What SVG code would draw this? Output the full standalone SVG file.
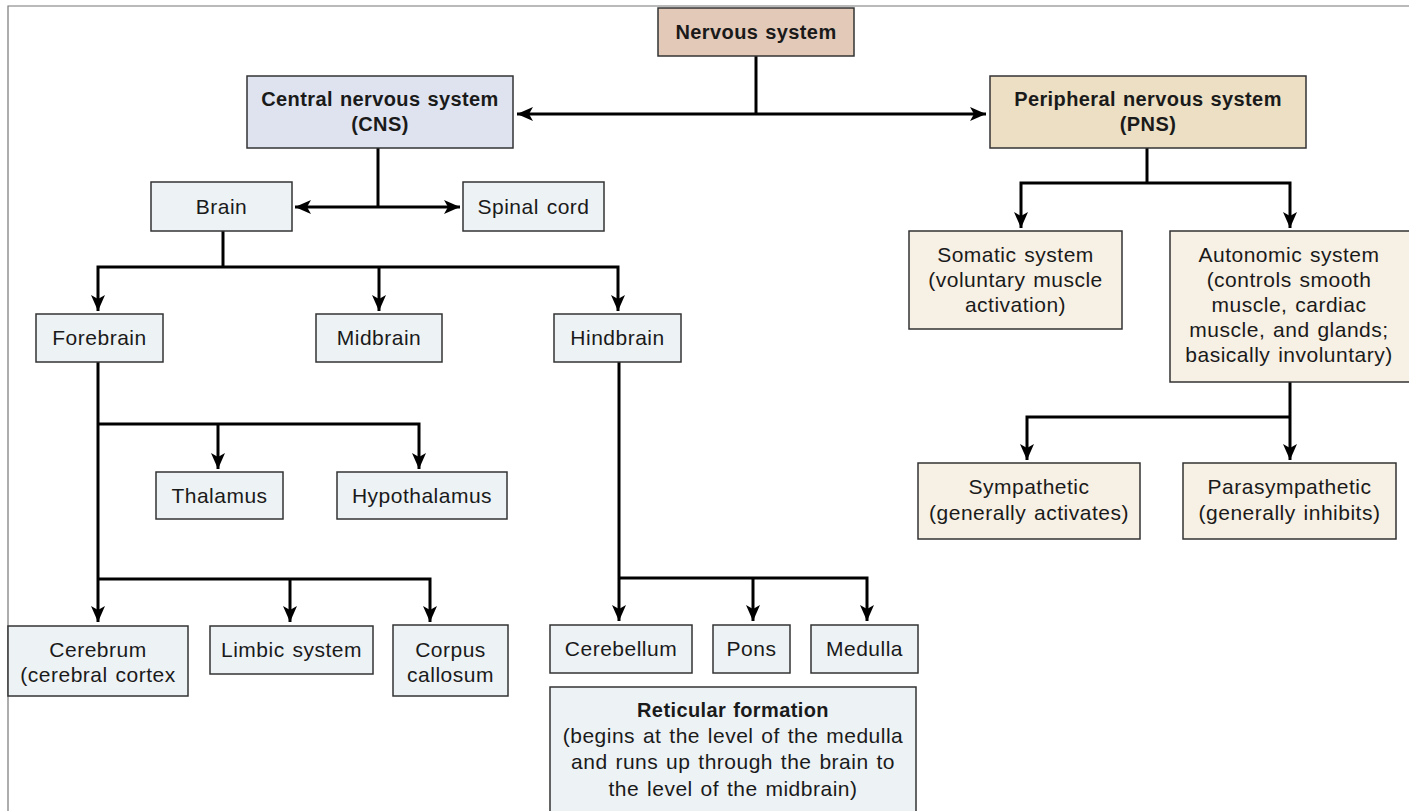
<svg xmlns="http://www.w3.org/2000/svg" width="1409" height="811" viewBox="0 0 1409 811">
<defs>
<marker id="arr" viewBox="0 0 16 14" refX="16" refY="7" markerWidth="16" markerHeight="14" markerUnits="userSpaceOnUse" orient="auto-start-reverse">
<path d="M0,0 L16,7 L0,14 L4,7 Z" fill="#000"/>
</marker>
<style>
.box{stroke:#333;stroke-width:1.5}
.ns{fill:#e3c9b8}
.cns{fill:#dee3ef}
.pns{fill:#ecdfc3}
.lb{fill:#edf2f5}
.cr{fill:#f7f0e4}
text{font-family:"Liberation Sans","Arial",sans-serif;font-size:21px;fill:#1a1a1a;text-anchor:middle;letter-spacing:0.5px;word-spacing:1.5px}
.b{font-weight:bold;font-size:20px;letter-spacing:0.4px;word-spacing:1px}
.ln{fill:none;stroke:#000;stroke-width:3}
.a{marker-end:url(#arr)}
</style>
</defs>
<rect width="1409" height="811" fill="#fff"/>
<path d="M8,811 V6 H1409" fill="none" stroke="#777" stroke-width="1.2"/>
<g id="connectors">
<path class="ln" d="M756,56 V114"/>
<path class="ln" d="M517,114 H986" marker-start="url(#arr)" marker-end="url(#arr)"/>
<path class="ln" d="M378,148 V207"/>
<path class="ln" d="M295,207 H460" marker-start="url(#arr)" marker-end="url(#arr)"/>
<path class="ln" d="M223,231 V267"/>
<path class="ln a" d="M223,267 H98 V311"/>
<path class="ln a" d="M223,267 H618 V311"/>
<path class="ln a" d="M379,267 V311"/>
<path class="ln a" d="M98,362 V622"/>
<path class="ln a" d="M98,424 H419 V469"/>
<path class="ln a" d="M218,424 V469"/>
<path class="ln a" d="M98,579 H430 V622"/>
<path class="ln a" d="M290,579 V622"/>
<path class="ln a" d="M619,362 V621"/>
<path class="ln a" d="M619,578 H867 V621"/>
<path class="ln a" d="M753,578 V621"/>
<path class="ln" d="M1147,148 V183"/>
<path class="ln a" d="M1147,183 H1021 V228"/>
<path class="ln a" d="M1147,183 H1290 V228"/>
<path class="ln a" d="M1290,382 V460"/>
<path class="ln a" d="M1290,417 H1027 V460"/>
</g>
<g id="nervous"><rect class="box ns" x="658" y="8" width="196" height="48"/><text class="b" x="756" y="39">Nervous system</text></g>
<g id="cns"><rect class="box cns" x="247" y="76" width="266" height="72"/><text class="b" x="380" y="106">Central nervous system</text><text class="b" x="380" y="131">(CNS)</text></g>
<g id="pns"><rect class="box pns" x="990" y="76" width="316" height="72"/><text class="b" x="1148" y="106">Peripheral nervous system</text><text class="b" x="1148" y="131">(PNS)</text></g>
<g id="brain"><rect class="box lb" x="151" y="182" width="141" height="49"/><text x="221.5" y="214">Brain</text></g>
<g id="spinal"><rect class="box lb" x="463" y="182" width="141" height="49"/><text x="533.5" y="214">Spinal cord</text></g>
<g id="forebrain"><rect class="box lb" x="36" y="314" width="127" height="48"/><text x="99.5" y="345">Forebrain</text></g>
<g id="midbrain"><rect class="box lb" x="316" y="314" width="126" height="48"/><text x="379" y="345">Midbrain</text></g>
<g id="hindbrain"><rect class="box lb" x="554" y="314" width="127" height="48"/><text x="617.5" y="345">Hindbrain</text></g>
<g id="thalamus"><rect class="box lb" x="156" y="472" width="127" height="47"/><text x="219.5" y="503">Thalamus</text></g>
<g id="hypothalamus"><rect class="box lb" x="337" y="472" width="170" height="47"/><text x="422" y="503">Hypothalamus</text></g>
<g id="cerebrum"><rect class="box lb" x="8" y="626" width="180" height="70"/><text x="98" y="657">Cerebrum</text><text x="98" y="682">(cerebral cortex</text></g>
<g id="limbic"><rect class="box lb" x="210" y="626" width="163" height="48"/><text x="291.5" y="657">Limbic system</text></g>
<g id="corpus"><rect class="box lb" x="393" y="625" width="115" height="71"/><text x="450.5" y="657">Corpus</text><text x="450.5" y="682">callosum</text></g>
<g id="cerebellum"><rect class="box lb" x="550" y="625" width="142" height="48"/><text x="621" y="656">Cerebellum</text></g>
<g id="pons"><rect class="box lb" x="713" y="625" width="77" height="48"/><text x="751.5" y="656">Pons</text></g>
<g id="medulla"><rect class="box lb" x="811" y="625" width="107" height="48"/><text x="864.5" y="656">Medulla</text></g>
<g id="reticular"><rect class="box lb" x="550" y="687" width="366" height="130"/><text class="b" x="733" y="717">Reticular formation</text><text x="733" y="743">(begins at the level of the medulla</text><text x="733" y="769">and runs up through the brain to</text><text x="733" y="796">the level of the midbrain)</text></g>
<g id="somatic"><rect class="box cr" x="909" y="231" width="213" height="98"/><text x="1015.5" y="262">Somatic system</text><text x="1015.5" y="287">(voluntary muscle</text><text x="1015.5" y="312">activation)</text></g>
<g id="autonomic"><rect class="box cr" x="1170" y="231" width="245" height="151"/><text x="1289" y="262">Autonomic system</text><text x="1289" y="287">(controls smooth</text><text x="1289" y="312">muscle, cardiac</text><text x="1289" y="337">muscle, and glands;</text><text x="1289" y="362">basically involuntary)</text></g>
<g id="sympathetic"><rect class="box cr" x="918" y="463" width="222" height="76"/><text x="1029" y="494">Sympathetic</text><text x="1029" y="520">(generally activates)</text></g>
<g id="parasympathetic"><rect class="box cr" x="1183" y="463" width="213" height="76"/><text x="1289.5" y="494">Parasympathetic</text><text x="1289.5" y="520">(generally inhibits)</text></g>
</svg>
